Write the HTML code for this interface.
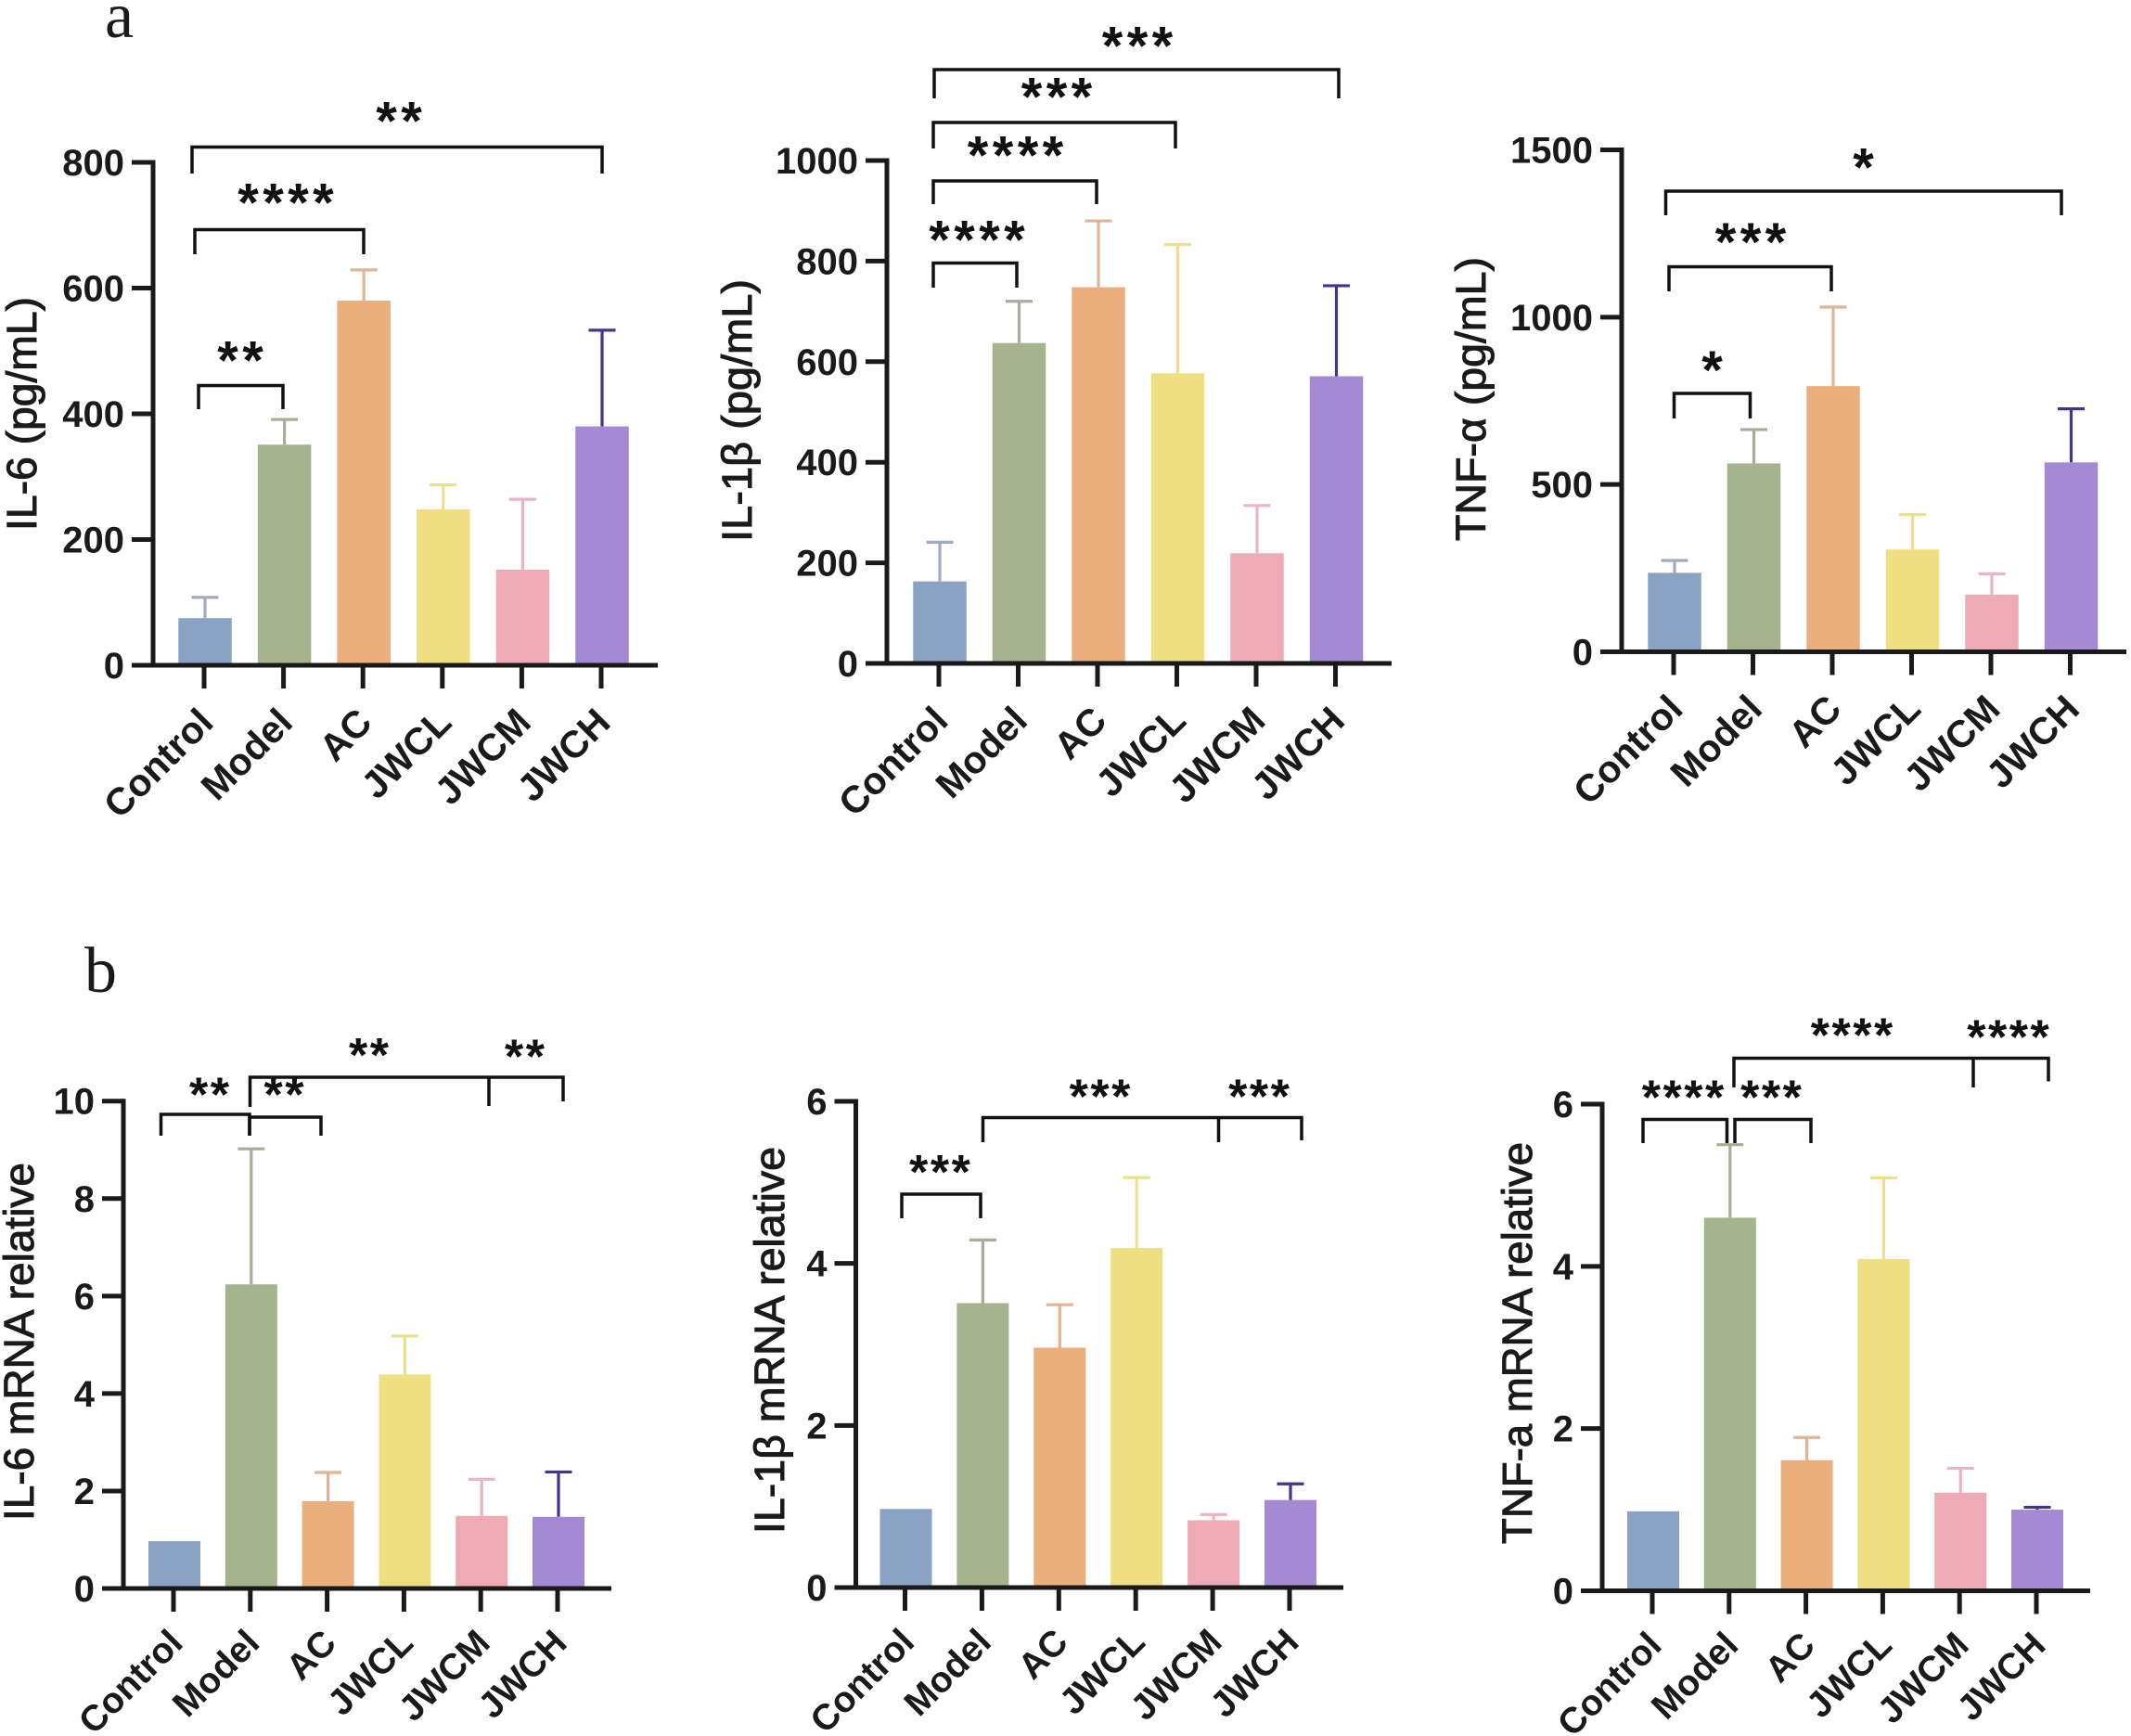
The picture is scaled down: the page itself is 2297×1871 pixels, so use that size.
<!DOCTYPE html>
<html lang="en">
<head>
<meta charset="utf-8">
<title>Cytokine levels and mRNA expression by group</title>
<style>
html,body{margin:0;padding:0;background:#fff;}
svg{display:block;font-family:"Liberation Sans",sans-serif;}
</style>
</head>
<body>
<svg id="figure" xmlns="http://www.w3.org/2000/svg" width="2297" height="1871" viewBox="0 0 2297 1871">
  <rect x="0" y="0" width="2297" height="1871" fill="#ffffff"/>
  <text x="113" y="40" font-family="'Liberation Serif',serif" font-size="70" fill="#1a1a1a">a</text>
  <text x="91" y="1069" font-family="'Liberation Serif',serif" font-size="70" fill="#1a1a1a">b</text>
</svg>
<script>
// Shared categories and per-panel data
const categories = ['Control', 'Model', 'AC', 'JWCL', 'JWCM', 'JWCH'];
const barColors = ['#8aa3c5', '#a5b48c', '#ebae7d', '#f0df82', '#efabb5', '#a48ad2'];
const errColors = ['#9fabc0', '#a9ad9a', '#dfb596', '#ebe08e', '#ecb4c0', '#42358c'];

const il6Means = [75, 351, 580, 248, 152, 380];
const il6Upper = [108, 391, 629, 287, 264, 533];
const il6Ticks = [0, 200, 400, 600, 800];

const il1bMeans = [163, 637, 748, 577, 219, 571];
const il1bUpper = [241, 720, 880, 833, 314, 751];
const il1bTicks = [0, 200, 400, 600, 800, 1000];

const tnfMeans = [236, 563, 794, 306, 171, 566];
const tnfUpper = [273, 664, 1030, 410, 233, 726];
const tnfTicks = [0, 500, 1000, 1500];

const il6MrnaMeans = [0.97, 6.24, 1.79, 4.39, 1.49, 1.47];
const il6MrnaUpper = [0.97, 9.02, 2.38, 5.18, 2.24, 2.39];
const il6MrnaTicks = [0, 2, 4, 6, 8, 10];

const il1bMrnaMeans = [0.97, 3.51, 2.96, 4.19, 0.83, 1.08];
const il1bMrnaUpper = [0.97, 4.29, 3.49, 5.06, 0.90, 1.28];
const il1bMrnaTicks = [0, 2, 4, 6];

const tnfMrnaMeans = [0.98, 4.60, 1.61, 4.09, 1.21, 1.00];
const tnfMrnaUpper = [0.98, 5.50, 1.89, 5.09, 1.51, 1.03];
const tnfMrnaTicks = [0, 2, 4, 6];

const NS = 'http://www.w3.org/2000/svg';
const svg = document.getElementById('figure');
const INK = '#1a1a1a';

function make(tag, parent) {
  const node = document.createElementNS(NS, tag);
  parent.appendChild(node);
  return node;
}

function drawPanel(p) {
  const g = make('g', svg);
  
  

  const maxV = p.ticks[p.ticks.length - 1];
  const yScale = function (v) { return p.y0 - (v / maxV) * (p.y0 - p.yTop); };
  const xScale = function (i) { return p.xFirst + i * p.xStep; };
  const barW = p.barW;

  // bars + error bars
  p.means.forEach(function (m, i) {
    const cx = xScale(i);
    const u = p.upper[i];
    if (u > m) {
      const stem = make('line', g);
      
      
      stem.setAttribute('x1', cx);
      stem.setAttribute('x2', cx);
      stem.setAttribute('y1', yScale(m));
      stem.setAttribute('y2', yScale(u));
      stem.setAttribute('stroke', errColors[i]);
      stem.setAttribute('stroke-width', 3.2);
      const cap = make('line', g);
      
      
      cap.setAttribute('x1', cx - 14.5);
      cap.setAttribute('x2', cx + 14.5);
      cap.setAttribute('y1', yScale(u));
      cap.setAttribute('y2', yScale(u));
      cap.setAttribute('stroke', errColors[i]);
      cap.setAttribute('stroke-width', 3.2);
    }
    const bar = make('rect', g);
    
    
    bar.setAttribute('x', cx - barW / 2);
    bar.setAttribute('y', yScale(m));
    bar.setAttribute('width', barW);
    bar.setAttribute('height', p.y0 - yScale(m));
    bar.setAttribute('fill', barColors[i]);
  });

  // y axis line
  const yAxis = make('line', g);
  
  
  yAxis.setAttribute('x1', p.axisX);
  yAxis.setAttribute('x2', p.axisX);
  yAxis.setAttribute('y1', p.yTop - 2.5);
  yAxis.setAttribute('y2', p.y0 + 2);
  yAxis.setAttribute('stroke', INK);
  yAxis.setAttribute('stroke-width', 5);

  // x axis line (includes the zero tick)
  const xAxis = make('line', g);
  
  
  xAxis.setAttribute('x1', p.axisX - 23);
  xAxis.setAttribute('x2', p.xRight);
  xAxis.setAttribute('y1', p.y0);
  xAxis.setAttribute('y2', p.y0);
  xAxis.setAttribute('stroke', INK);
  xAxis.setAttribute('stroke-width', 5);

  // y ticks
  p.ticks.forEach(function (t) {
    const tick = make('line', g);
    
    
    tick.setAttribute('x1', p.axisX - 23);
    tick.setAttribute('x2', p.axisX);
    tick.setAttribute('y1', yScale(t));
    tick.setAttribute('y2', yScale(t));
    tick.setAttribute('stroke', INK);
    tick.setAttribute('stroke-width', 5);
    const label = make('text', g);
    
    
    label.setAttribute('x', p.axisX - 31);
    label.setAttribute('y', yScale(t) + 14);
    label.setAttribute('text-anchor', 'end');
    label.setAttribute('font-size', 40);
    label.setAttribute('font-weight', 'bold');
    label.setAttribute('fill', INK);
    label.textContent = t;
  });

  // x ticks and labels
  categories.forEach(function (c, i) {
    const tx = xScale(i);
    const tick = make('line', g);
    
    
    tick.setAttribute('x1', tx - 1);
    tick.setAttribute('x2', tx - 1);
    tick.setAttribute('y1', p.y0);
    tick.setAttribute('y2', p.y0 + 25);
    tick.setAttribute('stroke', INK);
    tick.setAttribute('stroke-width', 5);
    const label = make('text', g);
    
    
    label.setAttribute('text-anchor', 'end');
    label.setAttribute('font-size', p.xFont);
    label.setAttribute('font-weight', 'bold');
    label.setAttribute('fill', INK);
    label.setAttribute('transform', 'translate(' + (tx + 11) + ',' + (p.y0 + p.xDy) + ') rotate(-45)');
    label.textContent = c;
  });

  // y-axis title
  const title = make('text', g);
  
  
  title.setAttribute('transform', 'translate(' + p.titleX + ',' + p.titleBottom + ') rotate(-90)');
  title.setAttribute('font-size', p.titleFont);
  title.setAttribute('fill', INK);
  title.setAttribute('stroke', INK);
  title.setAttribute('stroke-width', 1);
  title.setAttribute('textLength', p.titleLen);
  title.setAttribute('lengthAdjust', 'spacingAndGlyphs');
  title.textContent = p.title;

  return g;
}

function bracket(g, xs, yTop, yBottoms) {
  const path = make('path', g);
  
  
  let d = 'M' + xs[0] + ' ' + yBottoms[0] + 'V' + yTop + 'H' + xs[xs.length - 1] + 'V' + yBottoms[yBottoms.length - 1];
  if (xs.length === 3) { d += 'M' + xs[1] + ' ' + yTop + 'V' + yBottoms[1]; }
  path.setAttribute('d', d);
  path.setAttribute('fill', 'none');
  path.setAttribute('stroke', '#111111');
  path.setAttribute('stroke-width', 3.5);
}

function stars(g, label, cx, cy, size, spacing) {
  const t = make('text', g);
  
  
  t.setAttribute('x', cx + spacing / 2);
  t.setAttribute('y', cy + size * 0.47);
  t.setAttribute('text-anchor', 'middle');
  t.setAttribute('font-size', size);
  t.setAttribute('font-weight', 'bold');
  t.setAttribute('letter-spacing', spacing);
  t.setAttribute('fill', '#111111');
  t.textContent = label;
}

const TOP_S = 58, TOP_L = 4.4, BOT_S = 52, BOT_L = 2.5;

const a1 = drawPanel({ name: 'panel-il6', title: 'IL-6 (pg/mL)', titleX: 39, titleBottom: 572, titleLen: 252, titleFont: 45,
  means: il6Means, upper: il6Upper, ticks: il6Ticks,
  axisX: 165, y0: 717, yTop: 175, xRight: 709, xFirst: 221, xStep: 85.6, barW: 57.5, xFont: 41, xDy: 64 });
bracket(a1, [207, 649], 158.5, [187, 187]);
stars(a1, '**', 430, 123, TOP_S, TOP_L);
bracket(a1, [210, 392], 247.5, [274, 274]);
stars(a1, '****', 308, 211, TOP_S, TOP_L);
bracket(a1, [214, 305], 415.5, [441, 441]);
stars(a1, '**', 259, 381, TOP_S, TOP_L);

const a2 = drawPanel({ name: 'panel-il1b', title: 'IL-1β (pg/mL)', titleX: 810, titleBottom: 584, titleLen: 283, titleFont: 45,
  means: il1bMeans, upper: il1bUpper, ticks: il1bTicks,
  axisX: 956, y0: 715, yTop: 173, xRight: 1500, xFirst: 1013, xStep: 85.5, barW: 57.5, xFont: 41, xDy: 64 });
bracket(a2, [1007, 1443], 75, [106, 106]);
stars(a2, '***', 1226, 42, TOP_S, TOP_L);
bracket(a2, [1006, 1267], 132, [160, 160]);
stars(a2, '***', 1139, 97, TOP_S, TOP_L);
bracket(a2, [1006, 1182], 195, [220, 220]);
stars(a2, '****', 1094.5, 160, TOP_S, TOP_L);
bracket(a2, [1006, 1096], 283.5, [310, 310]);
stars(a2, '****', 1053, 251, TOP_S, TOP_L);

const a3 = drawPanel({ name: 'panel-tnf', title: 'TNF-α (pg/mL)', titleX: 1601, titleBottom: 583, titleLen: 306, titleFont: 45,
  means: tnfMeans, upper: tnfUpper, ticks: tnfTicks,
  axisX: 1748, y0: 702.5, yTop: 161.5, xRight: 2292, xFirst: 1805, xStep: 85.5, barW: 57.5, xFont: 41, xDy: 64 });
bracket(a3, [1795.5, 2222], 206, [232, 232]);
stars(a3, '*', 2008.5, 173, TOP_S, TOP_L);
bracket(a3, [1799, 1974], 287.5, [314, 314]);
stars(a3, '***', 1887, 253.5, TOP_S, TOP_L);
bracket(a3, [1804.5, 1886.5], 424, [451, 451]);
stars(a3, '*', 1845.5, 391.5, TOP_S, TOP_L);

const b1 = drawPanel({ name: 'panel-il6-mrna', title: 'IL-6 mRNA relative', titleX: 36, titleBottom: 1639, titleLen: 386, titleFont: 45,
  means: il6MrnaMeans, upper: il6MrnaUpper, ticks: il6MrnaTicks,
  axisX: 133, y0: 1712, yTop: 1186.7, xRight: 659, xFirst: 188, xStep: 82.8, barW: 56, xFont: 39, xDy: 61 });
bracket(b1, [173.5, 269], 1201, [1224, 1224]);
stars(b1, '**', 225.5, 1173, BOT_S, BOT_L);
bracket(b1, [269, 346], 1204, [1224, 1224]);
stars(b1, '**', 306, 1173, BOT_S, BOT_L);
bracket(b1, [269.5, 527, 607], 1161, [1193, 1192, 1187]);
stars(b1, '**', 397.5, 1130.5, BOT_S, BOT_L);
stars(b1, '**', 565.5, 1132, BOT_S, BOT_L);

const b2 = drawPanel({ name: 'panel-il1b-mrna', title: 'IL-1β mRNA relative', titleX: 845, titleBottom: 1653, titleLen: 417, titleFont: 45,
  means: il1bMrnaMeans, upper: il1bMrnaUpper, ticks: il1bMrnaTicks,
  axisX: 922.5, y0: 1711, yTop: 1187, xRight: 1448, xFirst: 976.5, xStep: 82.9, barW: 56, xFont: 39, xDy: 61 });
bracket(b2, [972, 1057], 1287, [1313, 1313]);
stars(b2, '***', 1013, 1256.5, BOT_S, BOT_L);
bracket(b2, [1059.5, 1313.5, 1403], 1204.5, [1231, 1231, 1229]);
stars(b2, '***', 1185.5, 1175, BOT_S, BOT_L);
stars(b2, '***', 1357, 1175, BOT_S, BOT_L);

const b3 = drawPanel({ name: 'panel-tnf-mrna', title: 'TNF-a mRNA relative', titleX: 1651, titleBottom: 1664, titleLen: 433, titleFont: 45,
  means: tnfMrnaMeans, upper: tnfMrnaUpper, ticks: tnfMrnaTicks,
  axisX: 1727, y0: 1714.5, yTop: 1190, xRight: 2253, xFirst: 1782, xStep: 82.8, barW: 56, xFont: 39, xDy: 61 });
bracket(b3, [1771, 1861.5], 1206.5, [1232, 1232]);
stars(b3, '****', 1814, 1176, BOT_S, BOT_L);
bracket(b3, [1870, 1952], 1206.5, [1232, 1232]);
stars(b3, '***', 1909, 1176, BOT_S, BOT_L);
bracket(b3, [1869, 2127, 2208], 1140.5, [1172, 1172, 1165.5]);
stars(b3, '****', 1996, 1109, BOT_S, BOT_L);
stars(b3, '****', 2164.5, 1111, BOT_S, BOT_L);
</script>
</body>
</html>
